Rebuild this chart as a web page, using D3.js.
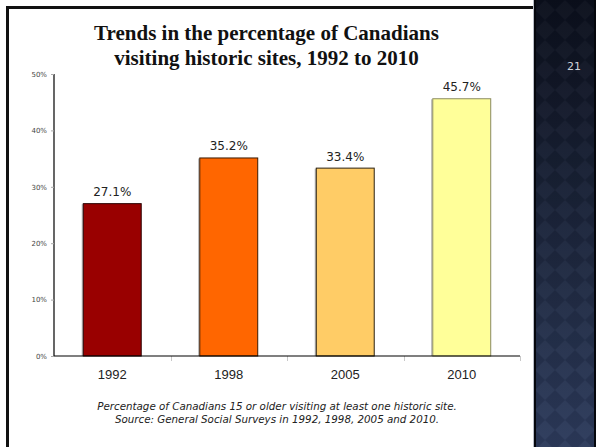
<!DOCTYPE html>
<html>
<head>
<meta charset="utf-8">
<script src="https://cdn.jsdelivr.net/npm/d3@7"></script>
<style>
  html, body { margin: 0; padding: 0; background: #fff; }
  svg { display: block; }
</style>
</head>
<body>
<svg id="slide" width="596" height="447"></svg>
<script>
// Survey years and share of Canadians (15+) visiting at least one historic site
const years = ["1992", "1998", "2005", "2010"];
const shares = [27.1, 35.2, 33.4, 45.7];
const barColors = ["#990000", "#ff6600", "#ffcc66", "#ffff99"];
const barStrokes = ["#2a0000", "#3a1a00", "#2a2010", "#8a8a60"];
const yTicks = [0, 10, 20, 30, 40, 50];
const titleLines = ["Trends in the percentage of Canadians", "visiting historic sites, 1992 to 2010"];
const noteLines = [
  "Percentage of Canadians 15 or older visiting at least one historic site.",
  "Source: General Social Surveys in 1992, 1998, 2005 and 2010."
];
const slideNumber = "21";

const svg = d3.select("#slide");
const W = 596, H = 447;

// ---- side panel with diamond texture ----
const defs = svg.append("defs");
const grad = defs.append("linearGradient").attr("id", "panelGrad")
  .attr("x1", 0).attr("y1", 0).attr("x2", 0).attr("y2", 1);
grad.append("stop").attr("offset", "0%").attr("stop-color", "#0b0f1c");
grad.append("stop").attr("offset", "45%").attr("stop-color", "#1a2338");
grad.append("stop").attr("offset", "100%").attr("stop-color", "#2d3b5c");

const pat = defs.append("pattern").attr("id", "diamonds")
  .attr("patternUnits", "userSpaceOnUse")
  .attr("width", 20).attr("height", 20).attr("x", 535).attr("y", 0);
pat.append("path").attr("d", "M10,0 L20,10 L10,20 L0,10 Z")
  .attr("fill", "#ffffff").attr("fill-opacity", 0.025);
pat.append("path").attr("d", "M0,0 L10,0 L0,10 Z M20,0 L20,10 L10,0 Z M0,20 L0,10 L10,20 Z M20,20 L10,20 L20,10 Z")
  .attr("fill", "#000000").attr("fill-opacity", 0.07);

const panelX = 533;
svg.append("rect").attr("x", panelX).attr("y", 0).attr("width", W - panelX).attr("height", H)
  .attr("fill", "url(#panelGrad)");
svg.append("rect").attr("x", panelX).attr("y", 0).attr("width", W - panelX).attr("height", H)
  .attr("fill", "url(#diamonds)");
svg.append("line").attr("x1", panelX + 0.5).attr("x2", panelX + 0.5).attr("y1", 0).attr("y2", H)
  .attr("stroke", "#b8bcc6").attr("stroke-width", 1);
svg.append("line").attr("x1", panelX + 2).attr("x2", panelX + 2).attr("y1", 0).attr("y2", H)
  .attr("stroke", "#05070d").attr("stroke-width", 2);
svg.append("line").attr("x1", W - 1).attr("x2", W - 1).attr("y1", 0).attr("y2", H)
  .attr("stroke", "#05070d").attr("stroke-width", 2);

svg.append("text").attr("x", 574).attr("y", 70)
  .attr("text-anchor", "middle")
  .attr("font-family", "'DejaVu Sans', sans-serif").attr("font-size", 11)
  .attr("fill", "#d0d3da").text(slideNumber);

// ---- slide frame (top and left rule) ----
svg.append("path").attr("d", `M7.5,${H} V7.5 H${panelX}`)
  .attr("fill", "none").attr("stroke", "#111").attr("stroke-width", 3);

// ---- title ----
const title = svg.append("text")
  .attr("text-anchor", "middle")
  .attr("font-family", "'Liberation Serif', 'DejaVu Serif', serif")
  .attr("font-weight", "bold").attr("font-size", 21).attr("fill", "#111");
titleLines.forEach((t, i) => {
  title.append("tspan").attr("x", 266.5).attr("y", 40 + i * 25).text(t);
});

// ---- scales ----
const x = d3.scaleBand().domain(years).range([54, 520])
  .paddingInner(0.494).paddingOuter(0.247);
const y = d3.scaleLinear().domain([0, 50]).range([356, 74]);

// category separator ticks along the baseline
const step = x.step();
const sepX = d3.range(years.length + 1).map(i => 54 + i * step);
svg.append("g").selectAll("line").data(sepX.slice(1)).join("line")
  .attr("x1", d => Math.round(d) + 0.5).attr("x2", d => Math.round(d) + 0.5)
  .attr("y1", y(0)).attr("y2", y(0) + 5)
  .attr("stroke", "#c8c8c8").attr("stroke-width", 1);

// ---- bars ----
const bars = svg.append("g");
bars.selectAll("line.shadow").data(years).join("line").attr("class", "shadow")
  .attr("x1", d => x(d) - 0.5).attr("x2", d => x(d) - 0.5)
  .attr("y1", (d, i) => y(shares[i]) + 1).attr("y2", y(0))
  .attr("stroke", "#a8a8a8").attr("stroke-width", 1);
bars.selectAll("rect").data(years).join("rect")
  .attr("x", d => x(d) + 0.5)
  .attr("y", (d, i) => y(shares[i]) + 0.5)
  .attr("width", x.bandwidth() - 1)
  .attr("height", (d, i) => y(0) - y(shares[i]) - 0.5)
  .attr("fill", (d, i) => barColors[i])
  .attr("stroke", (d, i) => barStrokes[i])
  .attr("stroke-width", 1);

// value labels
svg.append("g").selectAll("text").data(years).join("text")
  .attr("x", d => x(d) + x.bandwidth() / 2)
  .attr("y", (d, i) => y(shares[i]) - 7)
  .attr("text-anchor", "middle")
  .attr("font-family", "'DejaVu Sans', sans-serif").attr("font-size", 12)
  .attr("fill", "#222")
  .text((d, i) => shares[i].toFixed(1) + "%");

// ---- axes ----
const yAxis = svg.append("g").attr("transform", "translate(54,0)")
  .call(d3.axisLeft(y).tickValues(yTicks).tickFormat(d => d + "%").tickSize(3).tickPadding(4));
yAxis.select(".domain").attr("stroke", "#000").attr("stroke-width", 1.2)
  .attr("d", `M0,${y(50)}V${y(0)}`);
yAxis.selectAll(".tick line").attr("stroke", "#aaa");
yAxis.selectAll(".tick text")
  .attr("font-family", "'DejaVu Sans', sans-serif").attr("font-size", 7).attr("fill", "#444");

const xAxis = svg.append("g").attr("transform", `translate(0,${y(0)})`)
  .call(d3.axisBottom(x).tickSize(0).tickPadding(14));
xAxis.select(".domain").attr("stroke", "#000").attr("stroke-width", 1.2)
  .attr("d", `M54,0H520`);
xAxis.selectAll(".tick text")
  .attr("font-family", "'Liberation Sans', Arial, sans-serif").attr("font-size", 13).attr("fill", "#222");

// ---- footnote ----
const note = svg.append("text")
  .attr("text-anchor", "middle")
  .attr("font-family", "'DejaVu Sans', sans-serif")
  .attr("font-style", "italic").attr("font-size", 10.3).attr("fill", "#222");
noteLines.forEach((t, i) => {
  note.append("tspan").attr("x", 277).attr("y", 410 + i * 13).text(t);
});
</script>
</body>
</html>
